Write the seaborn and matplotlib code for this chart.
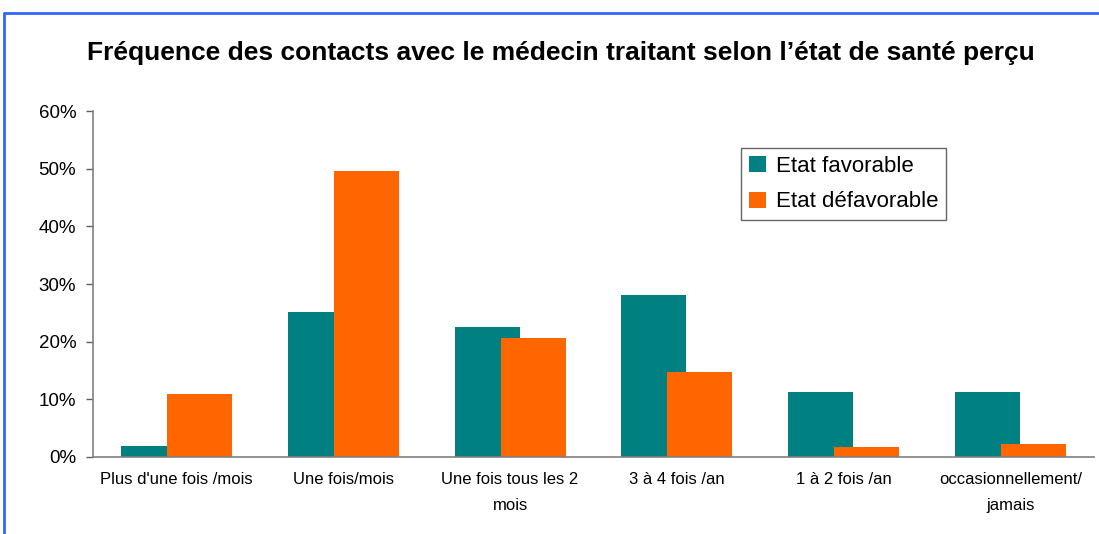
import matplotlib
matplotlib.use("Agg")
import matplotlib.pyplot as plt
import matplotlib.ticker as mticker
import pandas as pd
import seaborn as sns

# Data (percent)
categories = ["Plus d'une fois /mois", "Une fois/mois", "Une fois tous les 2\nmois",
              "3 à 4 fois /an", "1 à 2 fois /an", "occasionnellement/\njamais"]
favorable = [1.9, 25.1, 22.5, 28.1, 11.3, 11.3]
defavorable = [10.9, 49.6, 20.6, 14.7, 1.7, 2.2]
series = ["Etat favorable", "Etat défavorable"]
colors = ["#008080", "#FF6600"]

df = pd.DataFrame({
    "cat": categories * 2,
    "val": favorable + defavorable,
    "serie": [series[0]] * 6 + [series[1]] * 6,
})

sns.set_style("white")
plt.rcParams["font.family"] = ["Liberation Sans", "DejaVu Sans"]
plt.rcParams["text.color"] = "black"
plt.rcParams["xtick.color"] = "black"
plt.rcParams["ytick.color"] = "black"

fig = plt.figure(figsize=(10.99, 5.34), dpi=100)
ax = fig.add_axes([0.0846, 0.1442, 0.9109, 0.6479])

sns.barplot(data=df, x="cat", y="val", hue="serie", order=categories,
            hue_order=series, palette=colors, dodge=True, width=0.6,
            saturation=1, errorbar=None, ax=ax, linewidth=0)

# Excel-style overlapping bars: narrower offset than bar width
bar_w = 0.39
offset = 0.138
n = len(categories)
for i, p in enumerate(ax.patches[:2 * n]):
    k = i // n
    ctr = (i % n) + (-offset if k == 0 else offset)
    p.set_width(bar_w)
    p.set_x(ctr - bar_w / 2)

ax.set_xlim(-0.5, n - 0.5)
ax.set_ylim(0, 60)
ax.yaxis.set_major_locator(mticker.MultipleLocator(10))
ax.yaxis.set_major_formatter(mticker.FuncFormatter(lambda v, _: f"{v:.0f}%"))
ax.set_xticks(range(n))
ax.set_xticklabels(categories, fontsize=12, linespacing=1.9, va="top")
ax.set_xticks([i - 0.5 for i in range(n + 1)], minor=True)
ax.tick_params(axis="x", which="major", length=0, pad=11)
ax.tick_params(axis="x", which="minor", length=5, direction="out",
               color="#606060", width=1)
ax.tick_params(axis="y", length=5, direction="out", color="#606060",
               width=1, labelsize=13.5, pad=7, left=True)
ax.set_xlabel("")
ax.set_ylabel("")

for s in ["top", "right"]:
    ax.spines[s].set_visible(False)
for s in ["left", "bottom"]:
    ax.spines[s].set_color("#808080")
    ax.spines[s].set_linewidth(1.2)

leg = ax.legend(loc="upper left", bbox_to_anchor=(0.6475, 0.893), fontsize=16,
                frameon=True, fancybox=False, handlelength=0.75, handleheight=0.75,
                handletextpad=0.45, borderpad=0.35, labelspacing=0.66,
                borderaxespad=0)
leg.get_frame().set_edgecolor("#404040")
leg.get_frame().set_linewidth(1)

fig.text(0.51, 1 - 53 / 534, "Fréquence des contacts avec le médecin traitant selon l’état de santé perçu",
         ha="center", va="center", fontsize=19, fontweight="bold")

# blue outer border (top and left visible)
fig.add_artist(plt.Line2D([4 / 1099, 4 / 1099], [0, 1 - 13 / 534],
                          transform=fig.transFigure, color="#3366FF", lw=2))
fig.add_artist(plt.Line2D([4 / 1099, 1], [1 - 13 / 534, 1 - 13 / 534],
                          transform=fig.transFigure, color="#3366FF", lw=2))

fig.savefig("out.png", dpi=100)
